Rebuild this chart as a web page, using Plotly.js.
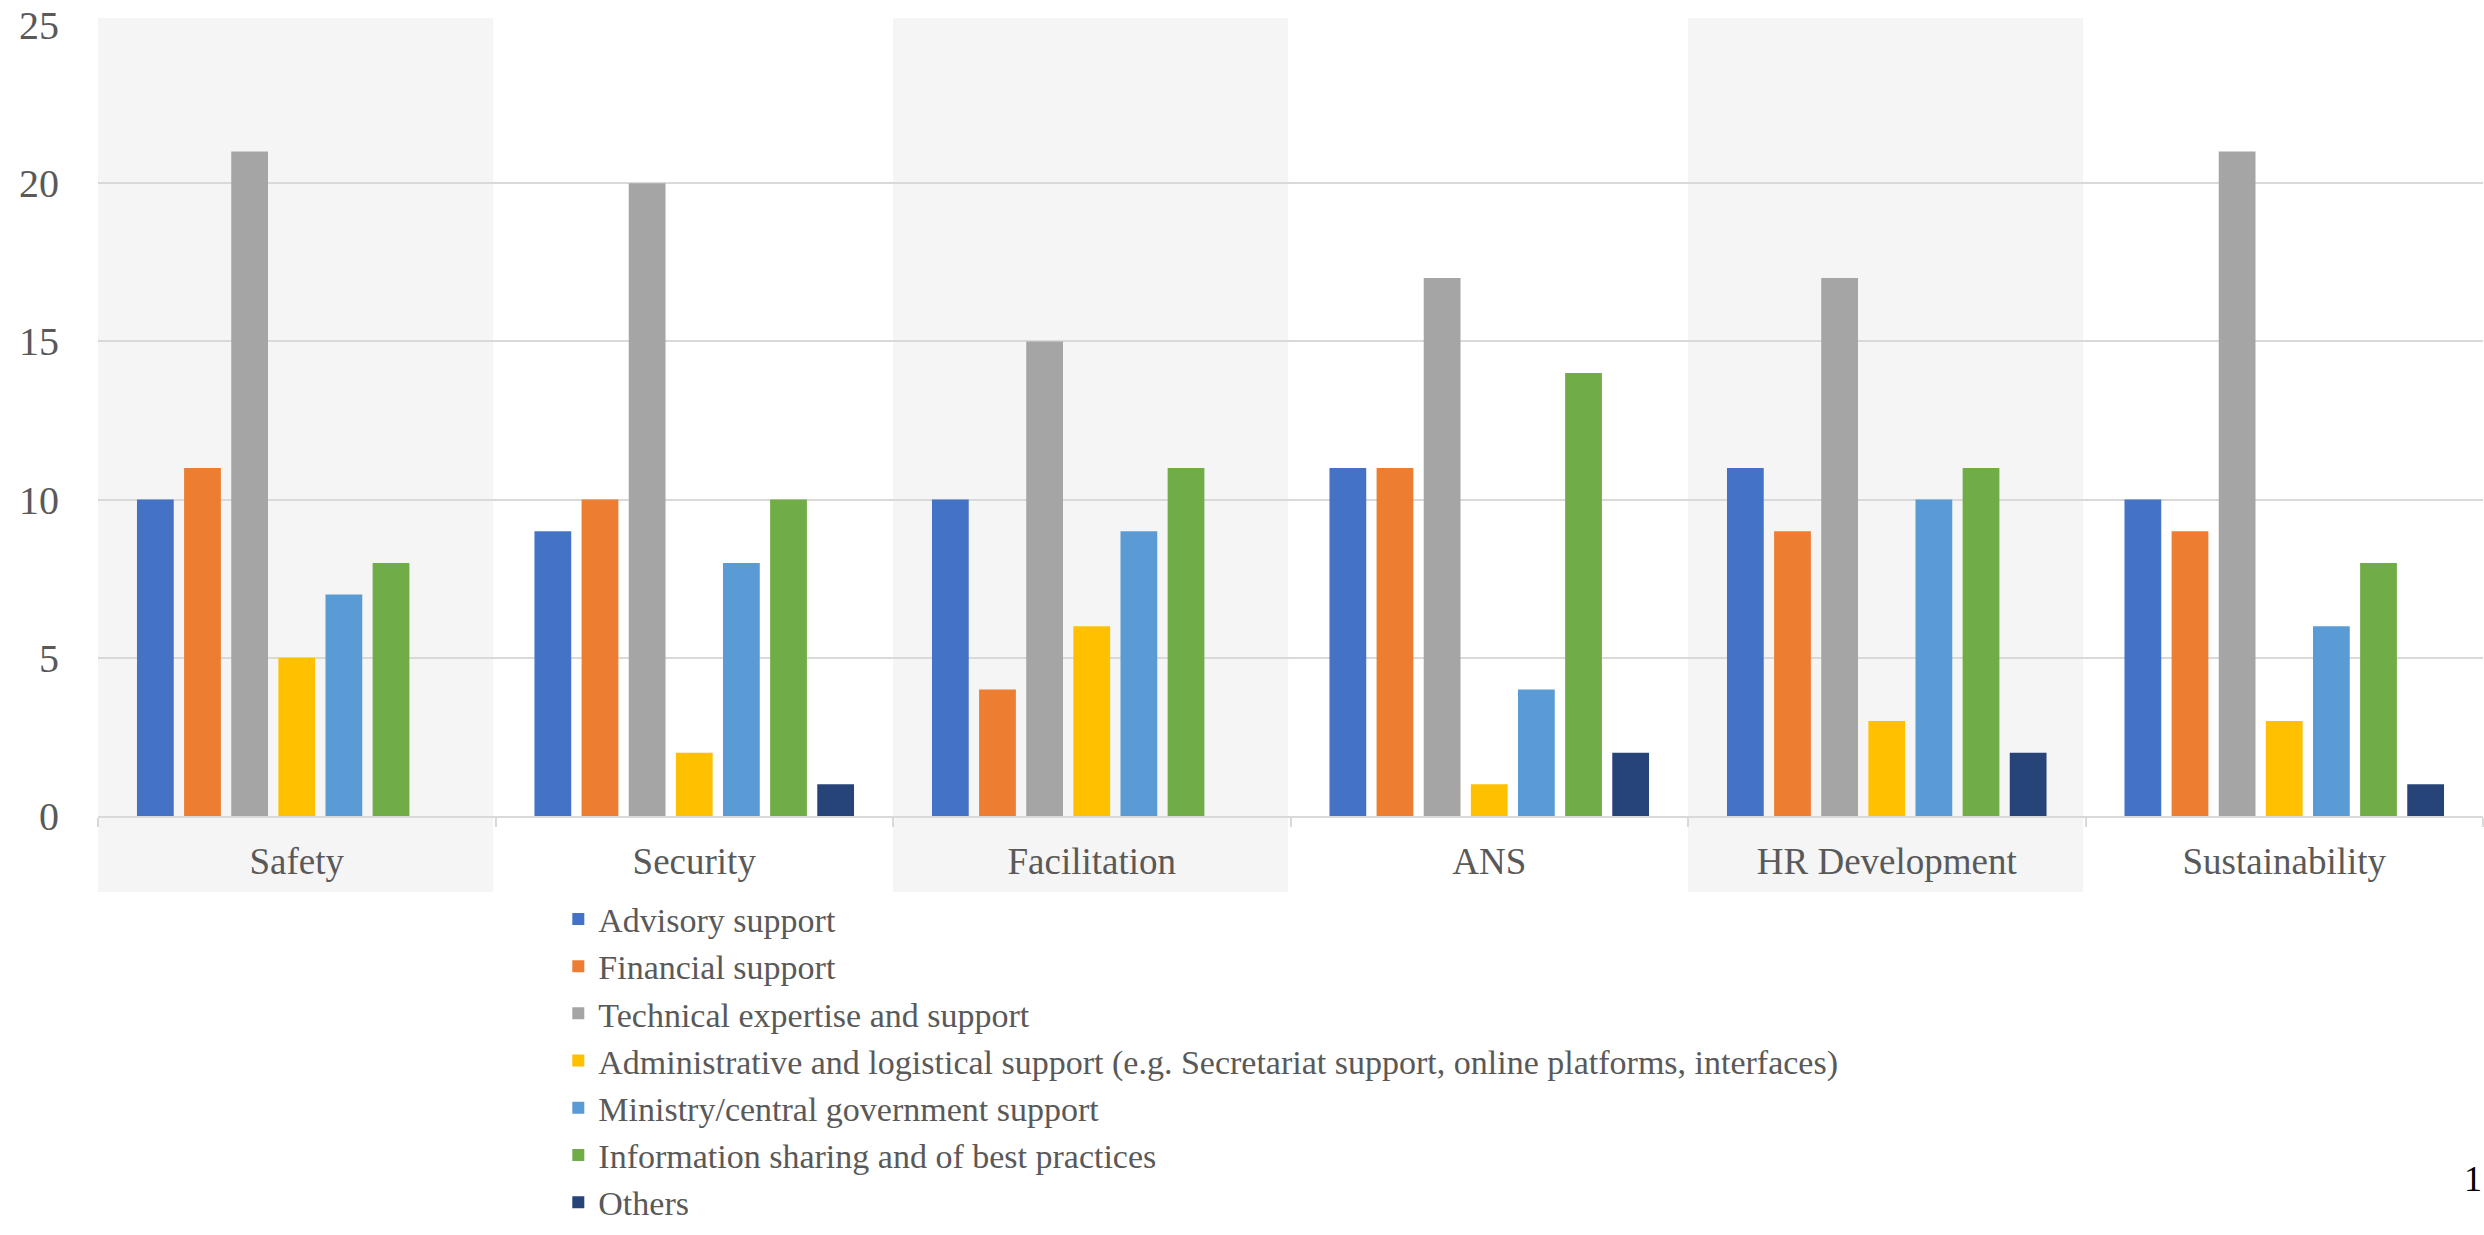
<!DOCTYPE html>
<html>
<head>
<meta charset="utf-8">
<script src="https://cdn.plot.ly/plotly-3.0.1.min.js"></script>
<style>html,body{margin:0;padding:0;background:#fff;}#chart{width:2484px;height:1235px;}</style>
</head>
<body>
<div id="chart"></div>
<script>
const categories = ["Safety", "Security", "Facilitation", "ANS", "HR Development", "Sustainability"];
const seriesNames = [
  "Advisory support",
  "Financial support",
  "Technical expertise and support",
  "Administrative and logistical support (e.g. Secretariat support, online platforms, interfaces)",
  "Ministry/central government support",
  "Information sharing and of best practices",
  "Others"
];
const advisory   = [10, 9, 10, 11, 11, 10];
const financial  = [11, 10, 4, 11, 9, 9];
const technical  = [21, 20, 15, 17, 17, 21];
const adminLog   = [5, 2, 6, 1, 3, 3];
const ministry   = [7, 8, 9, 4, 10, 6];
const infoShare  = [8, 10, 11, 14, 11, 8];
const others     = [0, 1, 0, 2, 2, 1];
const seriesValues = [advisory, financial, technical, adminLog, ministry, infoShare, others];
const colors = ["#4472C4", "#ED7D31", "#A5A5A5", "#FFC000", "#5B9BD5", "#70AD47", "#264478"];
const shadedCategories = [0, 2, 4];

const textColor = "#595959";
const font = "Liberation Serif, Times New Roman, serif";

const traces = seriesValues.map((vals, i) => ({
  type: "bar",
  name: seriesNames[i],
  x: categories,
  y: vals,
  marker: {color: colors[i], line: {width: 0}},
  hoverinfo: "x+y+name"
}));

const n = categories.length;
const shapes = shadedCategories.map(ci => ({
  type: "rect", xref: "paper", yref: "paper", layer: "below",
  x0: ci / n, x1: (ci + 1) / n - 0.001,
  y0: -0.096, y1: 1.009,
  fillcolor: "#F5F5F5", line: {width: 0}
}));

const layout = {
  width: 2484, height: 1235,
  margin: {l: 98, r: 1, t: 25, b: 419, autoexpand: false},
  paper_bgcolor: "#ffffff",
  plot_bgcolor: "rgba(0,0,0,0)",
  font: {family: font, color: textColor, size: 37},
  barmode: "group",
  bargap: 0.17,
  bargroupgap: 0.22,
  showlegend: true,
  legend: {
    orientation: "v",
    x: 0.193, xanchor: "left",
    y: -0.094, yanchor: "top",
    font: {family: font, size: 34, color: textColor},
    bgcolor: "rgba(0,0,0,0)",
    itemwidth: 30,
    traceorder: "normal"
  },
  xaxis: {
    type: "category",
    range: [-0.5, n - 0.5],
    showgrid: false,
    showline: true, linecolor: "#D9D9D9", linewidth: 2,
    ticks: "outside", tickson: "boundaries", ticklen: 9, tickcolor: "#D9D9D9", tickwidth: 2,
    tickfont: {family: font, size: 37, color: textColor},
    ticklabelstandoff: 12,
    zeroline: false,
    fixedrange: true
  },
  yaxis: {
    range: [0, 25],
    dtick: 5,
    showgrid: true, gridcolor: "#D9D9D9", gridwidth: 2,
    zeroline: false,
    showline: false,
    ticks: "",
    tickfont: {family: font, size: 40, color: textColor},
    ticklabelstandoff: 38,
    fixedrange: true
  },
  shapes: shapes,
  annotations: [{
    xref: "paper", yref: "paper",
    x: 1.0004, y: -0.459, xanchor: "right", yanchor: "middle",
    text: "1", showarrow: false,
    font: {family: font, size: 36, color: "#000000"}
  }]
};

Plotly.newPlot("chart", traces, layout, {displayModeBar: false, staticPlot: true});
</script>
</body>
</html>
